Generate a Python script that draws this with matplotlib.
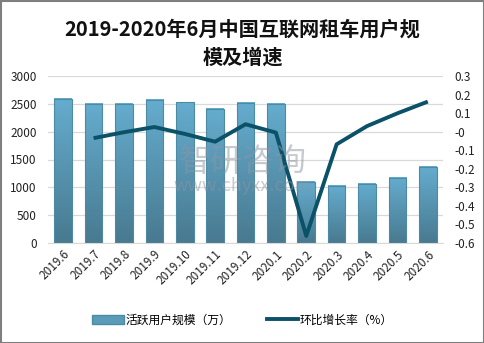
import matplotlib
matplotlib.use("Agg")
import matplotlib.pyplot as plt
import numpy as np
from matplotlib.patches import Rectangle
from matplotlib.lines import Line2D
from matplotlib.colors import LinearSegmentedColormap

plt.rcParams['font.family'] = ['Noto Sans CJK SC', 'DejaVu Sans']

months = ["2019.6", "2019.7", "2019.8", "2019.9", "2019.10", "2019.11", "2019.12",
          "2020.1", "2020.2", "2020.3", "2020.4", "2020.5", "2020.6"]
users = [2590, 2500, 2500, 2570, 2530, 2410, 2520, 2500, 1100, 1030, 1060, 1170, 1370]
growth = [None, -0.035, -0.003, 0.025, -0.012, -0.054, 0.040, -0.005, -0.562, -0.068, 0.030, 0.099, 0.162]

title_l1 = "2019-2020年6月中国互联网租车用户规"
title_l2 = "模及增速"
bar_label = "活跃用户规模（万）"
line_label = "环比增长率（%）"

W, H = 485, 343
fig = plt.figure(figsize=(W / 100, H / 100), dpi=100)
ax = fig.add_axes([48 / W, 1 - 243 / H, (443 - 48) / W, (243 - 76) / H])
ax2 = ax.twinx()

x = np.arange(len(months))
bw = 0.58
cmap = LinearSegmentedColormap.from_list("g", ["#487a90", "#65acce"])
bars = ax.bar(x, users, width=bw, color="none", edgecolor="#4d8aa4", linewidth=0.8, zorder=3)
grad = np.linspace(0, 1, 100).reshape(-1, 1)
for b in bars:
    bx, by = b.get_x(), b.get_y()
    bwid, bh = b.get_width(), b.get_height()
    ax.imshow(grad, cmap=cmap, origin="lower", aspect="auto",
              extent=[bx, bx + bwid, by, by + bh], zorder=2)
ax.set_xlim(-0.5, len(months) - 0.5)
ax.set_ylim(0, 3000)
ax.set_yticks(np.arange(0, 3001, 500))
ax.yaxis.grid(True, color="#d9d9d9", linewidth=0.9, zorder=0)
ax.set_axisbelow(True)
ax.set_xticks(x)
ax.set_xticklabels(months, rotation=45, ha="right", rotation_mode="anchor", fontsize=8.5)
for s in ["top", "right", "left"]:
    ax.spines[s].set_visible(False)
ax.spines["bottom"].set_color("#d9d9d9")
ax.tick_params(axis="both", length=0, labelsize=8.5, colors="#222222")
ax.tick_params(axis="y", pad=8)

gx = [i for i, g in enumerate(growth) if g is not None]
gy = [g for g in growth if g is not None]
ax2.plot(gx, gy, color="#0b5268", linewidth=2.8, solid_capstyle="butt", zorder=5)
ax2.set_ylim(-0.6, 0.3)
ticks2 = np.round(np.arange(-0.6, 0.31, 0.1), 1)
ax2.set_yticks(ticks2)
ax2.set_yticklabels([f"{v:g}" for v in ticks2])
for s in ["top", "right", "left", "bottom"]:
    ax2.spines[s].set_visible(False)
ax2.tick_params(axis="y", length=0, labelsize=8.5, colors="#222222", pad=8)
ax2.set_xlim(-0.5, len(months) - 0.5)

fig.text(0.5, 1 - 29 / H, title_l1, ha="center", va="center", fontsize=14.5,
         fontweight="bold", color="#111111")
fig.text(0.5, 1 - 57 / H, title_l2, ha="center", va="center", fontsize=14.5,
         fontweight="bold", color="#111111")

# watermark
fig.text(243 / W, 1 - 162 / H, "智研咨询", ha="center", va="center", fontsize=23,
         color="#8d95a3", alpha=0.5, zorder=10)
fig.text(243 / W, 1 - 186 / H, "www.chyxx.com", ha="center", va="center", fontsize=13,
         color="#8d95a3", alpha=0.5, zorder=10)

handles = [Rectangle((0, 0), 1, 1, facecolor="#5a9bba", edgecolor="#4d8aa4"),
           Line2D([0], [0], color="#0b5268", linewidth=2.8)]
fig.legend(handles, [bar_label, line_label], loc="center", bbox_to_anchor=(0.5, 1 - 320 / H),
           ncol=2, frameon=False, fontsize=8.5, handlelength=2.7, handleheight=0.8,
           columnspacing=3.0, handletextpad=0.1)

fig.patches.append(Rectangle((0.5 / W, 0.5 / H), 1 - 1.5 / W, 1 - 1.5 / H, transform=fig.transFigure,
                             fill=False, edgecolor="#7f7f7f", linewidth=1.5))

fig.savefig("out.png", dpi=100)
